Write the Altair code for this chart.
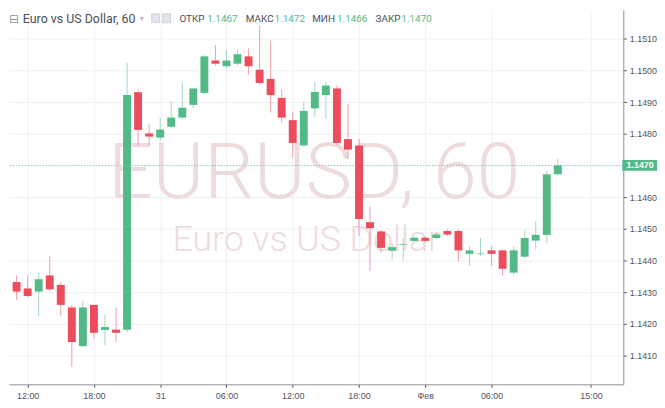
import pandas as pd
import altair as alt

# hourly EUR/USD candles, 30 Jan 11:00 -> 1 Feb 12:00
opens = [1.14332, 1.14312, 1.14302, 1.14353, 1.14323, 1.14252, 1.14130, 1.14260, 1.14181, 1.14182,
         1.14182, 1.14931, 1.14801, 1.14788, 1.14822, 1.14851, 1.14891, 1.14929, 1.15031, 1.15013,
         1.15021, 1.15044, 1.15002, 1.14973, 1.14913, 1.14843, 1.14763, 1.14880, 1.14922, 1.14943,
         1.14783, 1.14763, 1.14521, 1.14492, 1.14431, 1.14450, 1.14462, 1.14472, 1.14471, 1.14493,
         1.14493, 1.14421, 1.14420, 1.14432, 1.14432, 1.14362, 1.14412, 1.14463, 1.14481, 1.14672]
highs = [1.14353, 1.14353, 1.14362, 1.14413, 1.14332, 1.14260, 1.14273, 1.14260, 1.14231, 1.14252,
         1.15023, 1.14940, 1.14830, 1.14851, 1.14903, 1.14963, 1.14943, 1.15049, 1.15080, 1.15062,
         1.15066, 1.15069, 1.15141, 1.15094, 1.14940, 1.14870, 1.14901, 1.14963, 1.14963, 1.14953,
         1.14893, 1.14783, 1.14570, 1.14495, 1.14455, 1.14471, 1.14476, 1.14476, 1.14487, 1.14499,
         1.14497, 1.14445, 1.14471, 1.14445, 1.14435, 1.14445, 1.14494, 1.14523, 1.14682, 1.14721]
lows = [1.14275, 1.14284, 1.14224, 1.14303, 1.14224, 1.14065, 1.14127, 1.14153, 1.14132, 1.14143,
        1.14174, 1.14763, 1.14763, 1.14778, 1.14818, 1.14846, 1.14882, 1.14924, 1.15015, 1.15005,
        1.15015, 1.14987, 1.14955, 1.14867, 1.14835, 1.14726, 1.14759, 1.14853, 1.14846, 1.14765,
        1.14721, 1.14476, 1.14367, 1.14424, 1.14403, 1.14403, 1.14458, 1.14458, 1.14468, 1.14478,
        1.14398, 1.14384, 1.14414, 1.14383, 1.14353, 1.14353, 1.14408, 1.14434, 1.14455, 1.14666]
closes = [1.14302, 1.14288, 1.14341, 1.14309, 1.14260, 1.14143, 1.14252, 1.14172, 1.14190, 1.14172,
          1.14922, 1.14812, 1.14791, 1.14813, 1.14851, 1.14882, 1.14943, 1.15044, 1.15021, 1.15031,
          1.15051, 1.15013, 1.14960, 1.14922, 1.14851, 1.14771, 1.14872, 1.14932, 1.14952, 1.14771,
          1.14750, 1.14531, 1.14502, 1.14440, 1.14442, 1.14452, 1.14472, 1.14462, 1.14482, 1.14482,
          1.14432, 1.14432, 1.14422, 1.14421, 1.14374, 1.14432, 1.14471, 1.14481, 1.14672, 1.14700]

# hours counted from 30 Jan 11:00
tick_hours = [1, 7, 13, 19, 25, 31, 37, 43, 52]
tick_labels = ["12:00", "18:00", "31", "06:00", "12:00", "18:00", "Фев", "06:00", "15:00"]
price_ticks = [1.140, 1.141, 1.142, 1.143, 1.144, 1.145, 1.146, 1.147,
               1.148, 1.149, 1.150, 1.151, 1.152]

header_names = ["ОТКР", "МАКС", "МИН", "ЗАКР"]
header_values = ["1.1467", "1.1472", "1.1466", "1.1470"]
last_price = 1.1470
last_label = "1.1470"

GREEN = "#53b987"
RED = "#eb4d5c"
AXIS_GREY = "#50535e"
WATERMARK = "#eedcdc"
W, H = 620, 378

df = pd.DataFrame({
    "hour": range(len(opens)),
    "open": opens,
    "high": highs,
    "low": lows,
    "close": closes,
})

x_scale = alt.Scale(domain=[-0.24, 54.48], nice=False, zero=False)
y_scale = alt.Scale(domain=[1.140094, 1.15191], nice=False, zero=False)

label_js = "[" + ",".join(f"'{t}'" for t in tick_labels) + "]"
hours_js = "[" + ",".join(str(h) for h in tick_hours) + "]"
x_axis = alt.Axis(
    values=tick_hours,
    labelExpr=f"{label_js}[indexof({hours_js}, datum.value)]",
    title=None, grid=True, tickSize=3, labelPadding=4,
)
# the last-price badge sits over its own tick label
y_axis = alt.Axis(
    values=price_ticks, format=".4f", orient="right",
    labelExpr=f"abs(datum.value - {last_price}) < 0.00001 ? '' : format(datum.value, '.4f')",
    title=None, grid=True, tickSize=3, labelPadding=3,
)

x_enc = alt.X("hour:Q", scale=x_scale, axis=x_axis)
up = "datum.close >= datum.open"

wicks = alt.Chart(df).mark_rule(strokeWidth=1, opacity=0.55).encode(
    x=x_enc,
    y=alt.Y("low:Q", scale=y_scale, axis=y_axis),
    y2="high:Q",
    color=alt.condition(up, alt.value(GREEN), alt.value(RED)),
)

bodies = alt.Chart(df).mark_bar(size=8).encode(
    x=x_enc,
    y=alt.Y("open:Q", scale=y_scale, axis=y_axis),
    y2="close:Q",
    color=alt.condition(up, alt.value(GREEN), alt.value(RED)),
)

one = pd.DataFrame({"k": [0]})

def label(text, x, y, size, color, **kw):
    return alt.Chart(one).mark_text(
        text=text, align=kw.pop("align", "left"), baseline=kw.pop("baseline", "middle"),
        fontSize=size, color=color, font=kw.pop("font", "Roboto"), **kw
    ).encode(x=alt.value(x), y=alt.value(y))

watermark = [
    label("EURUSD, 60", 308, 190, 79, WATERMARK, align="center",
          baseline="alphabetic", fontWeight=300),
    label("Euro vs US Dollar", 300, 243, 36, WATERMARK, align="center",
          baseline="alphabetic", fontWeight=300),
]

price = pd.DataFrame({"price": [last_price],
                      "lo": [last_price - 0.00017], "hi": [last_price + 0.00017]})
price_line = alt.Chart(price).mark_rule(
    color=GREEN, strokeDash=[1, 2], strokeWidth=1, opacity=0.8
).encode(y=alt.Y("price:Q", scale=y_scale, axis=y_axis))

price_box = alt.Chart(price).mark_rect(color=GREEN, clip=False).encode(
    x=alt.value(619), x2=alt.value(654),
    y=alt.Y("lo:Q", scale=y_scale, axis=y_axis), y2="hi:Q",
)
price_text = alt.Chart(price).mark_text(
    text=last_label, color="white", fontSize=9, fontWeight="bold",
    font="Liberation Sans", align="center", baseline="middle", clip=False,
).encode(x=alt.value(637), y=alt.Y("price:Q", scale=y_scale, axis=y_axis))

icon_boxes = [
    alt.Chart(one).mark_rect(fill="#e1e4e8", stroke="#c9cdd3", strokeWidth=0.8).encode(
        x=alt.value(x0), x2=alt.value(x0 + 8), y=alt.value(4), y2=alt.value(13))
    for x0 in (144, 155)
]

header = [
    label("⊟", 0, 9, 12, "#8a8f99", font="DejaVu Sans"),
    label("Euro vs US Dollar, 60", 14, 9, 12.5, "#4a4f5a"),
    label("▾", 132, 9, 8, "#b5b9c0", font="DejaVu Sans"),
]
name_x = [172, 239, 306, 370]
value_x = [200, 268, 331, 396]
for name, val, nx, vx in zip(header_names, header_values, name_x, value_x):
    header.append(label(name, nx, 9, 10, "#4a4f5a"))
    header.append(label(val, vx, 9, 10, GREEN))

chart = alt.layer(
    *watermark, price_line, wicks, bodies, price_box, price_text, *icon_boxes, *header
).properties(
    width=W, height=H, padding={"left": 0, "top": 0, "right": 0, "bottom": 0},
).configure_view(
    strokeWidth=0
).configure_axis(
    labelFont="Liberation Sans", labelFontSize=9, labelColor=AXIS_GREY,
    tickColor=AXIS_GREY, domainColor="#8a8f99", gridColor="#edf0f3",
)

chart.save("out.html", embed_options={"renderer": "svg", "actions": False})
